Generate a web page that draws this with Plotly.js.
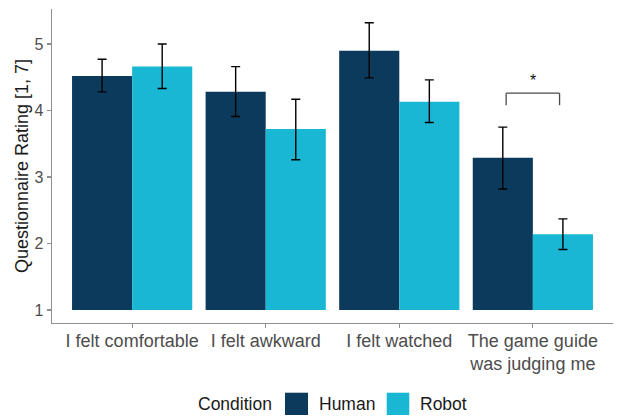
<!DOCTYPE html>
<html>
<head>
<meta charset="utf-8">
<script src="https://cdn.plot.ly/plotly-3.0.1.min.js"></script>
<style>html,body{margin:0;padding:0;background:#fff;}#chart{width:618px;height:417px;}</style>
</head>
<body>
<div id="chart"></div>
<script>
// ---- data ----
const categories = ["I felt comfortable", "I felt awkward", "I felt watched", "The game guide<br>was judging me"];
const seriesNames = ["Human", "Robot"];
const humanMean = [4.52, 4.28, 4.90, 3.29];
const humanErrUp = [0.25, 0.38, 0.42, 0.46];
const humanErrDown = [0.24, 0.37, 0.41, 0.47];
const robotMean = [4.66, 3.72, 4.13, 2.14];
const robotErrUp = [0.34, 0.45, 0.33, 0.23];
const robotErrDown = [0.33, 0.46, 0.31, 0.23];
const yTicks = [1, 2, 3, 4, 5];
const scaleFloor = 1;
const sigBracketX = [2.8, 3.2];
const sigBracketY = [4.08, 4.26];
const sigLabel = "*";

// ---- style ----
const colors = ["#0c3a5d", "#1ab7d5"];
const font = "Liberation Sans, Arial, sans-serif";
const axisGrey = "#8f8f8f";

function barTrace(name, mean, up, down, color) {
  return {
    type: "bar",
    name: name,
    x: categories,
    y: mean.map(v => v - scaleFloor),
    base: scaleFloor,
    marker: {color: color, line: {width: 0}},
    error_y: {type: "data", symmetric: false, array: up, arrayminus: down,
              color: "#000", thickness: 1.4, width: 4.5},
    showlegend: false,
    hoverinfo: "skip"
  };
}

const traces = [
  barTrace(seriesNames[0], humanMean, humanErrUp, humanErrDown, colors[0]),
  barTrace(seriesNames[1], robotMean, robotErrUp, robotErrDown, colors[1])
];

// plot area geometry
const M = {l: 52, r: 5, t: 9, b: 94};
const W = 618, H = 417;
const pw = W - M.l - M.r, ph = H - M.t - M.b;
const px = x => (x - M.l) / pw;
const py = y => (H - M.b - y) / ph;

const bracketStyle = {color: "#4a4a4a", width: 1.3};
const shapes = [
  {type: "line", xref: "x", yref: "y", x0: sigBracketX[0], x1: sigBracketX[1], y0: sigBracketY[1], y1: sigBracketY[1], line: bracketStyle},
  {type: "line", xref: "x", yref: "y", x0: sigBracketX[0], x1: sigBracketX[0], y0: sigBracketY[0], y1: sigBracketY[1], line: bracketStyle},
  {type: "line", xref: "x", yref: "y", x0: sigBracketX[1], x1: sigBracketX[1], y0: sigBracketY[0], y1: sigBracketY[1], line: bracketStyle}
];

// legend (drawn manually to match ggplot key size)
const keyBoxes = [[285, 308], [386.7, 409.3]];
const keyLabelsX = [318.3, 419.3];
const annotations = [
  {xref: "x", yref: "y", x: (sigBracketX[0] + sigBracketX[1]) / 2, y: sigBracketY[1], text: sigLabel,
   showarrow: false, yanchor: "bottom", yshift: 2, font: {family: font, size: 16, color: "#111"}},
  {xref: "paper", yref: "paper", x: px(196.3), y: py(404), xanchor: "left", yanchor: "middle",
   text: "Condition", showarrow: false, font: {family: font, size: 17.5, color: "#1a1a1a"}}
];
seriesNames.forEach((n, i) => {
  shapes.push({type: "rect", xref: "paper", yref: "paper",
    x0: px(keyBoxes[i][0]), x1: px(keyBoxes[i][1]), y0: py(392.7), y1: py(415),
    fillcolor: colors[i], line: {width: 0}});
  annotations.push({xref: "paper", yref: "paper", x: px(keyLabelsX[i] - 1), y: py(404),
    xanchor: "left", yanchor: "middle", text: n, showarrow: false,
    font: {family: font, size: 17.5, color: "#1a1a1a"}});
});

const layout = {
  width: W, height: H,
  margin: M,
  paper_bgcolor: "#fff", plot_bgcolor: "#fff",
  font: {family: font, color: "#4d4d4d"},
  barmode: "group", bargap: 0.1, bargroupgap: 0,
  showlegend: false,
  xaxis: {
    type: "category", range: [-0.6, 3.6], fixedrange: true,
    showline: true, linecolor: axisGrey, linewidth: 1.4,
    ticks: "outside", ticklen: 4, tickcolor: axisGrey, tickwidth: 1.2,
    ticklabelstandoff: -3,
    tickfont: {family: font, size: 18, color: "#4d4d4d"},
    showgrid: false, zeroline: false
  },
  yaxis: {
    range: [0.805, 5.526], tickvals: yTicks, ticktext: yTicks.map(String),
    showline: true, linecolor: axisGrey, linewidth: 1.4,
    ticks: "outside", ticklen: 4, tickcolor: axisGrey, tickwidth: 1.2,
    tickfont: {family: font, size: 16, color: "#4d4d4d"},
    showgrid: false, zeroline: false,
    title: {text: "Questionnaire Rating [1, 7]", font: {family: font, size: 18, color: "#1a1a1a"}, standoff: 1}
  },
  shapes: shapes,
  annotations: annotations
};

Plotly.newPlot("chart", traces, layout, {staticPlot: true, displayModeBar: false});
</script>
</body>
</html>
